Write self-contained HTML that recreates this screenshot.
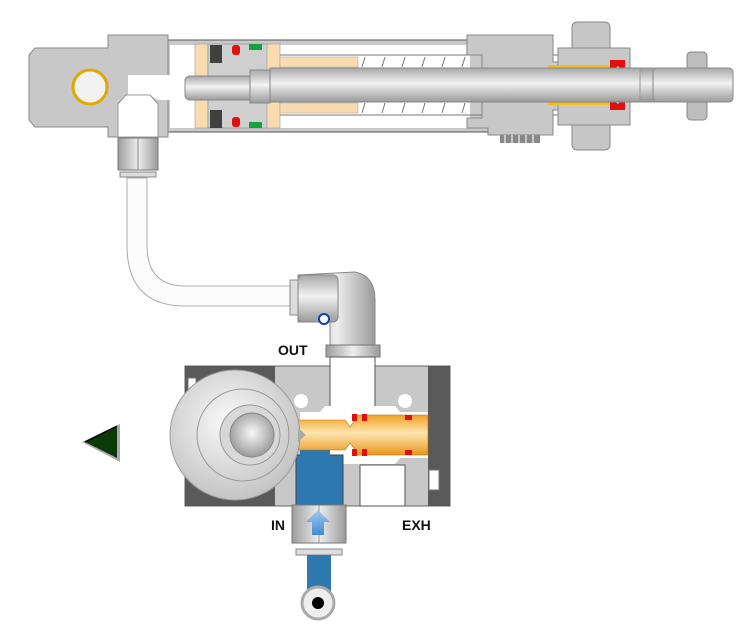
<!DOCTYPE html>
<html><head><meta charset="utf-8"><style>
html,body{margin:0;padding:0;background:#fff;}
svg{display:block;}
text{font-family:"Liberation Sans",sans-serif;font-weight:bold;font-size:14px;fill:#111;}
</style></head><body>
<svg width="742" height="633" viewBox="0 0 742 633" xmlns="http://www.w3.org/2000/svg">
<defs>
<linearGradient id="rod" x1="0" y1="0" x2="0" y2="1">
<stop offset="0" stop-color="#a8a8a8"/><stop offset="0.45" stop-color="#f2f2f2"/><stop offset="1" stop-color="#9a9a9a"/></linearGradient>
<linearGradient id="met" x1="0" y1="0" x2="1" y2="0">
<stop offset="0" stop-color="#9c9c9c"/><stop offset="0.5" stop-color="#eeeeee"/><stop offset="1" stop-color="#9a9a9a"/></linearGradient>
<linearGradient id="org" x1="0" y1="0" x2="0" y2="1">
<stop offset="0" stop-color="#f0a020"/><stop offset="0.45" stop-color="#ffe6b0"/><stop offset="1" stop-color="#e8951a"/></linearGradient>
<linearGradient id="blu" x1="0" y1="0" x2="0" y2="1">
<stop offset="0" stop-color="#9cc8f0"/><stop offset="1" stop-color="#2f80d0"/></linearGradient>
<radialGradient id="knob" cx="0.45" cy="0.4" r="0.6">
<stop offset="0" stop-color="#fafafa"/><stop offset="1" stop-color="#c4c4c4"/></radialGradient>
<radialGradient id="ball" cx="0.5" cy="0.45" r="0.55">
<stop offset="0" stop-color="#f8f8f8"/><stop offset="1" stop-color="#9a9a9a"/></radialGradient>
</defs>

<path d="M127 178 L127 245 Q127 306 185 306 L295 306 L295 286 L185 286 Q147 286 147 245 L147 178 Z" fill="#fcfcfc" stroke="#999" stroke-width="0.8"/>

<rect x="165" y="40" width="330" height="92" fill="#c9c9c9" stroke="#555" stroke-width="1"/>
<rect x="170" y="45" width="300" height="83" fill="#fff"/>
<path d="M29 55 L35 48 L108 48 L108 35 L168 35 L168 137 L108 137 L108 127 L35 127 L29 120 Z" fill="#c8c8c8" stroke="#888" stroke-width="1"/>
<circle cx="90" cy="87" r="17" fill="#f2f2f2" stroke="#e0a800" stroke-width="3"/>
<path d="M128 75 L160 75 L168 88 L168 100 L158 100 L150 95 L128 95 Z" fill="#fff"/>
<path d="M118 104 L126 95 L150 95 L158 104 L158 137 L118 137 Z" fill="#fff" stroke="#999" stroke-width="1"/>
<rect x="160" y="75" width="30" height="25" fill="#fff"/>
<rect x="195" y="44" width="13" height="84" fill="#f8dcb0" stroke="#999" stroke-width="0.6"/>
<rect x="208" y="44" width="60" height="84" fill="#cfcfcf" stroke="#888" stroke-width="0.6"/>
<rect x="210" y="45" width="12" height="18" fill="#404040"/>
<rect x="210" y="110" width="12" height="18" fill="#404040"/>
<rect x="232" y="45" width="8" height="10" rx="3" fill="#e01010"/>
<rect x="232" y="117" width="8" height="10" rx="3" fill="#e01010"/>
<rect x="249" y="44" width="13" height="6" fill="#16a040"/>
<rect x="249" y="122" width="13" height="6" fill="#16a040"/>
<rect x="267" y="44" width="13" height="84" fill="#f8dcb0" stroke="#999" stroke-width="0.6"/>
<rect x="280" y="57" width="78" height="10" fill="#f8dcb0" stroke="#aaa" stroke-width="0.6"/>
<rect x="280" y="103" width="78" height="10" fill="#f8dcb0" stroke="#aaa" stroke-width="0.6"/>
<g stroke="#777" stroke-width="1" fill="none">
<line x1="280" y1="55" x2="565" y2="55"/><line x1="280" y1="115" x2="565" y2="115"/>
<path d="M365 57 l-3 10 M385 57 l-3 10 M405 57 l-3 10 M425 57 l-3 10 M445 57 l-3 10 M465 57 l-3 10 M485 57 l-3 10 M505 57 l-3 10 M525 57 l-3 10 M545 57 l-3 10"/>
<path d="M365 103 l-3 10 M385 103 l-3 10 M405 103 l-3 10 M425 103 l-3 10 M445 103 l-3 10 M465 103 l-3 10 M485 103 l-3 10 M505 103 l-3 10 M525 103 l-3 10 M545 103 l-3 10"/>
</g>
<path d="M467 35 L553 35 L553 62 L560 62 L560 110 L553 110 L553 135 L488 135 L488 128 L467 128 L467 118 L482 118 L482 55 L467 55 Z" fill="#c8c8c8" stroke="#888" stroke-width="1"/>
<rect x="500" y="135" width="40" height="8" fill="#888"/>
<g stroke="#ddd" stroke-width="1.5"><line x1="505" y1="135" x2="505" y2="143"/><line x1="512" y1="135" x2="512" y2="143"/><line x1="519" y1="135" x2="519" y2="143"/><line x1="526" y1="135" x2="526" y2="143"/><line x1="533" y1="135" x2="533" y2="143"/></g>
<rect x="572" y="22" width="38" height="128" rx="5" fill="#c6c6c6" stroke="#888"/>
<rect x="558" y="48" width="72" height="77" fill="#c8c8c8" stroke="#888"/>
<rect x="548" y="65" width="62" height="7" fill="#f0c020"/>
<rect x="548" y="98" width="62" height="7" fill="#f0c020"/>
<path d="M610 60 L625 60 L625 72 L618 66 L610 72 Z" fill="#e01010"/>
<path d="M610 110 L625 110 L625 98 L618 104 L610 98 Z" fill="#e01010"/>
<rect x="687" y="52" width="20" height="68" rx="4" fill="#bdbdbd" stroke="#888"/>
<rect x="185" y="76" width="70" height="24" rx="5" fill="url(#rod)" stroke="#888"/>
<rect x="250" y="70" width="20" height="33" fill="url(#rod)" stroke="#888"/>
<rect x="270" y="68" width="385" height="34" fill="url(#rod)" stroke="#888"/>
<rect x="640" y="70" width="13" height="30" fill="url(#rod)" stroke="#999"/>
<rect x="653" y="68" width="80" height="34" rx="4" fill="url(#rod)" stroke="#888"/>
<rect x="118" y="138" width="40" height="32" fill="url(#met)" stroke="#777"/>
<line x1="138" y1="138" x2="138" y2="170" stroke="#888"/>
<rect x="120" y="172" width="36" height="5" fill="#ddd" stroke="#888"/>

<rect x="290" y="280" width="8" height="35" fill="#ddd" stroke="#888"/>
<path d="M298 275 L355 272 Q375 276 375 300 L375 345 L330 345 L330 322 L298 322 Z" fill="url(#met)" stroke="#888"/>
<rect x="298" y="275" width="40" height="47" rx="5" fill="url(#rod)" stroke="#888"/>
<circle cx="324" cy="319" r="5" fill="#fff" stroke="#1040b0" stroke-width="2"/>
<rect x="326" y="345" width="54" height="12" fill="url(#met)" stroke="#777"/>

<rect x="185" y="366" width="265" height="140" fill="#c8c8c8" stroke="#666"/>
<rect x="185" y="366" width="90" height="140" fill="#5a5a5a"/>
<rect x="428" y="366" width="22" height="140" fill="#5a5a5a"/>
<rect x="429" y="470" width="10" height="20" fill="#fff" stroke="#777"/>
<rect x="188" y="378" width="8" height="12" fill="#fff" stroke="#777"/>
<rect x="330" y="357" width="45" height="70" fill="#fff" stroke="#555"/>
<circle cx="301" cy="401" r="7" fill="#fff"/>
<circle cx="405" cy="401" r="7" fill="#fff"/>
<path d="M300 412 L320 412 L325 406 L395 406 L400 412 L428 412 L428 458 L400 458 L395 464 L325 464 L320 458 L300 458 Z" fill="#fff"/>
<rect x="360" y="465" width="45" height="41" fill="#fff" stroke="#555"/>
<rect x="296" y="455" width="47" height="50" fill="#2e78b0" stroke="#444"/>
<rect x="300" y="448" width="30" height="10" fill="#2e78b0"/>
<rect x="292" y="505" width="54" height="38" fill="url(#met)" stroke="#777"/>
<line x1="319" y1="505" x2="319" y2="543" stroke="#999"/>
<path d="M312 535 L312 522 L306 522 L318 510 L330 522 L324 522 L324 535 Z" fill="url(#blu)" opacity="0.9"/>
<rect x="296" y="549" width="46" height="6" fill="#ddd" stroke="#888"/>
<rect x="307" y="555" width="24" height="45" fill="#2e78b0"/>
<circle cx="318" cy="603" r="16" fill="#eee" stroke="#aaa" stroke-width="3"/>
<circle cx="318" cy="603" r="6" fill="#000"/>
<path d="M296 420 L345 420 L350 427 L355 420 L356 415 L428 415 L428 455 L356 455 L355 450 L350 443 L345 450 L296 450 Z" fill="url(#org)" stroke="#b57000" stroke-width="0.6"/>
<rect x="352" y="414" width="5" height="7" fill="#e01010"/>
<rect x="352" y="449" width="5" height="7" fill="#e01010"/>
<rect x="362" y="414" width="5" height="7" fill="#e01010"/>
<rect x="362" y="449" width="5" height="7" fill="#e01010"/>
<rect x="405" y="415" width="7" height="5" fill="#e01010"/>
<rect x="405" y="450" width="7" height="5" fill="#e01010"/>
<circle cx="235" cy="435" r="65" fill="url(#knob)" stroke="#999"/>
<path d="M298 428 L306 435 L298 442 Z" fill="#aaa"/>
<circle cx="243" cy="435" r="46" fill="none" stroke="#999"/>
<circle cx="250" cy="435" r="30" fill="#d8d8d8" stroke="#999"/>
<circle cx="252" cy="435" r="22" fill="url(#ball)" stroke="#888"/>

<polygon points="120,424 120,462 82,442" fill="#aaa"/>
<polygon points="117,426 117,458 85,442" fill="#0a3a0a"/>
<polyline points="85,442 117,426" stroke="#000" stroke-width="1.5" fill="none"/>

<text x="278" y="355">OUT</text>
<text x="271" y="530">IN</text>
<text x="402" y="530">EXH</text>
</svg>
</body></html>
